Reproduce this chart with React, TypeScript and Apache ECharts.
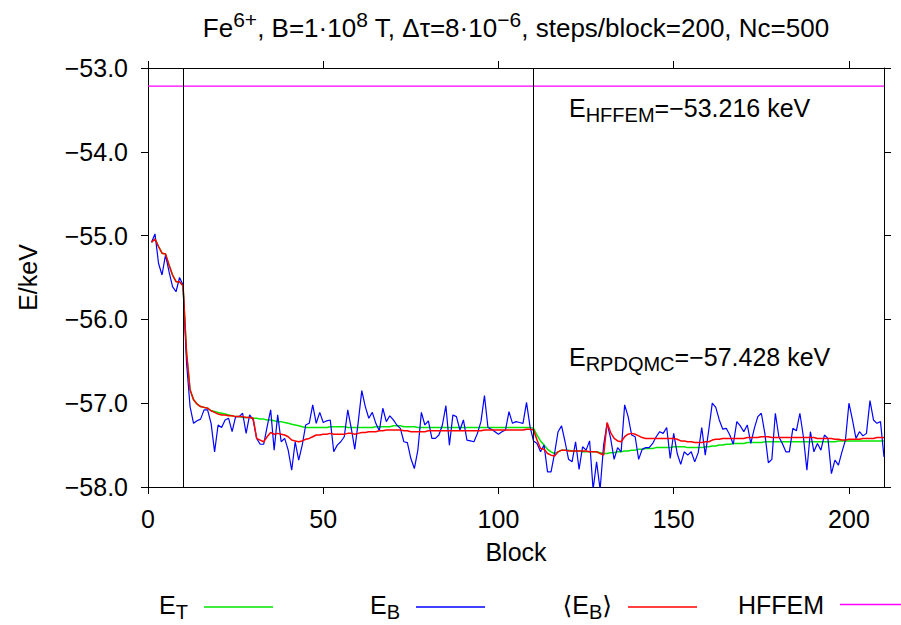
import React, { useEffect, useRef } from 'react';
import * as echarts from 'echarts';

const FONT = '"Liberation Sans", Arial, "DejaVu Sans", sans-serif';

// E_B per block (blocks 1..210)
const eBlock = [
  -55.08, -54.98, -55.33, -55.47, -55.23, -55.43, -55.61, -55.67, -55.50, -55.59,
  -56.52, -57.04, -57.24, -57.21, -57.19, -57.08, -57.08, -57.24, -57.58, -57.26,
  -57.29, -57.20, -57.18, -57.34, -57.16, -57.16, -57.12, -57.36, -57.14, -57.20,
  -57.42, -57.49, -57.49, -57.28, -57.08, -57.56, -57.14, -57.46, -57.42, -57.56,
  -57.80, -57.46, -57.68, -57.50, -57.26, -57.24, -57.02, -57.24, -57.11, -57.23,
  -57.21, -57.20, -57.58, -57.50, -57.46, -57.40, -57.08, -57.30, -57.55, -57.22,
  -56.85, -57.04, -57.18, -57.11, -57.24, -57.33, -57.06, -57.22, -57.15, -57.20,
  -57.26, -57.30, -57.46, -57.47, -57.66, -57.78, -57.56, -57.11, -57.26, -57.21,
  -57.42, -57.42, -57.38, -57.26, -57.03, -57.50, -57.14, -57.16, -57.32, -57.20,
  -57.44, -57.45, -57.46, -57.36, -57.22, -56.91, -57.29, -57.31, -57.34, -57.37,
  -57.34, -57.32, -57.10, -57.24, -57.22, -57.23, -57.24, -56.99, -57.28, -57.45,
  -57.48, -57.58, -57.50, -57.82, -57.82, -57.60, -57.34, -57.27, -57.46, -57.67,
  -57.70, -57.46, -57.79, -57.52, -57.56, -57.45, -58.03, -57.70, -58.03, -57.50,
  -57.24, -57.42, -57.67, -57.53, -57.58, -57.02, -57.16, -57.38, -57.40, -57.67,
  -57.55, -57.53, -57.53, -57.48, -57.40, -57.34, -57.36, -57.29, -57.66, -57.36,
  -57.60, -57.73, -57.58, -57.62, -57.58, -57.70, -57.59, -57.29, -57.62, -57.32,
  -57.00, -57.05, -57.20, -57.31, -57.30, -57.38, -57.49, -57.22, -57.27, -57.34,
  -57.26, -57.48, -57.30, -57.16, -57.12, -57.36, -57.71, -57.67, -57.12, -57.40,
  -57.48, -57.58, -57.58, -57.30, -57.33, -57.12, -57.40, -57.80, -57.34, -57.58,
  -57.48, -57.56, -57.38, -57.42, -57.84, -57.68, -57.74, -57.58, -57.44, -57.00,
  -57.20, -57.42, -57.34, -57.39, -57.36, -56.97, -57.20, -57.24, -57.22, -57.64,
];

// <E_B> per block
const eAvg = [
  -55.08, -55.04, -55.13, -55.21, -55.22, -55.35, -55.47, -55.55, -55.55, -55.60,
  -56.40, -56.84, -56.96, -57.01, -57.04, -57.05, -57.06, -57.09, -57.11, -57.13,
  -57.14, -57.14, -57.15, -57.15, -57.16, -57.16, -57.16, -57.17, -57.17, -57.18,
  -57.42, -57.44, -57.46, -57.40, -57.35, -57.37, -57.36, -57.37, -57.38, -57.40,
  -57.44, -57.45, -57.46, -57.45, -57.43, -57.42, -57.40, -57.38, -57.38, -57.37,
  -57.37, -57.36, -57.37, -57.37, -57.37, -57.37, -57.36, -57.36, -57.37, -57.36,
  -57.35, -57.35, -57.34, -57.34, -57.34, -57.33, -57.33, -57.32, -57.32, -57.32,
  -57.32, -57.32, -57.33, -57.33, -57.34, -57.34, -57.34, -57.34, -57.34, -57.33,
  -57.33, -57.33, -57.33, -57.33, -57.33, -57.33, -57.33, -57.33, -57.33, -57.33,
  -57.33, -57.33, -57.33, -57.33, -57.33, -57.32, -57.32, -57.32, -57.32, -57.32,
  -57.32, -57.32, -57.32, -57.32, -57.32, -57.32, -57.32, -57.31, -57.31, -57.32,
  -57.44, -57.54, -57.55, -57.60, -57.62, -57.63, -57.58, -57.56, -57.56, -57.57,
  -57.57, -57.57, -57.57, -57.57, -57.57, -57.58, -57.58, -57.58, -57.60, -57.62,
  -57.23, -57.35, -57.42, -57.45, -57.46, -57.40, -57.37, -57.36, -57.37, -57.39,
  -57.41, -57.42, -57.42, -57.42, -57.42, -57.42, -57.42, -57.42, -57.42, -57.42,
  -57.43, -57.45, -57.45, -57.46, -57.46, -57.47, -57.47, -57.47, -57.46, -57.46,
  -57.44, -57.43, -57.43, -57.42, -57.42, -57.42, -57.42, -57.42, -57.42, -57.42,
  -57.41, -57.41, -57.41, -57.41, -57.40, -57.40, -57.40, -57.41, -57.41, -57.41,
  -57.41, -57.41, -57.41, -57.41, -57.41, -57.41, -57.41, -57.41, -57.41, -57.41,
  -57.42, -57.42, -57.42, -57.42, -57.42, -57.43, -57.43, -57.44, -57.44, -57.43,
  -57.43, -57.43, -57.43, -57.42, -57.42, -57.42, -57.42, -57.41, -57.41, -57.41,
];

// E_T per block
const eTrial = [
  -55.08, -55.04, -55.13, -55.21, -55.22, -55.35, -55.47, -55.55, -55.55, -55.60,
  -56.40, -56.84, -56.96, -57.01, -57.04, -57.05, -57.06, -57.09, -57.10, -57.11,
  -57.12, -57.13, -57.14, -57.15, -57.16, -57.16, -57.17, -57.17, -57.17, -57.18,
  -57.18, -57.19, -57.19, -57.20, -57.20, -57.21, -57.22, -57.22, -57.23, -57.24,
  -57.25, -57.26, -57.27, -57.28, -57.29, -57.29, -57.29, -57.29, -57.29, -57.29,
  -57.29, -57.28, -57.28, -57.28, -57.28, -57.28, -57.29, -57.29, -57.29, -57.29,
  -57.29, -57.29, -57.29, -57.29, -57.28, -57.28, -57.28, -57.28, -57.28, -57.27,
  -57.27, -57.27, -57.28, -57.28, -57.28, -57.28, -57.29, -57.29, -57.29, -57.29,
  -57.29, -57.29, -57.29, -57.29, -57.29, -57.29, -57.29, -57.29, -57.29, -57.29,
  -57.29, -57.29, -57.29, -57.29, -57.29, -57.29, -57.29, -57.29, -57.29, -57.29,
  -57.29, -57.29, -57.29, -57.29, -57.29, -57.29, -57.29, -57.29, -57.29, -57.30,
  -57.38, -57.45, -57.50, -57.55, -57.58, -57.60, -57.58, -57.56, -57.56, -57.56,
  -57.57, -57.57, -57.57, -57.58, -57.58, -57.58, -57.58, -57.58, -57.59, -57.60,
  -57.60, -57.59, -57.59, -57.58, -57.58, -57.57, -57.57, -57.56, -57.56, -57.55,
  -57.55, -57.54, -57.54, -57.54, -57.53, -57.53, -57.53, -57.53, -57.53, -57.52,
  -57.52, -57.52, -57.52, -57.53, -57.53, -57.53, -57.53, -57.53, -57.52, -57.52,
  -57.51, -57.51, -57.50, -57.50, -57.49, -57.49, -57.48, -57.48, -57.48, -57.48,
  -57.47, -57.47, -57.47, -57.47, -57.47, -57.46, -57.46, -57.46, -57.46, -57.46,
  -57.46, -57.46, -57.46, -57.46, -57.46, -57.46, -57.46, -57.46, -57.46, -57.46,
  -57.46, -57.46, -57.46, -57.46, -57.46, -57.46, -57.45, -57.45, -57.45, -57.45,
  -57.45, -57.45, -57.45, -57.45, -57.45, -57.45, -57.45, -57.45, -57.45, -57.45,
];

const hffemValue = -53.216;
const xRange = [0, 210];
const yRange = [-58, -53];
const xTicks = [0, 50, 100, 150, 200];
const verticalMarkers = [10, 110];
const annotationHFFEM = { sub: 'HFFEM', value: '=\u221253.216 keV' };
const annotationQMC = { sub: 'RPDQMC', value: '=\u221257.428 keV' };

const toPairs = (arr: number[]) => arr.map((v, i) => [i + 1, v]);

const BIG = 25;
const SMALL = 20;
const TITLE_BIG = 26;
const TITLE_SMALL = 21;

// rich styles for axis/legend (ECharts text style names)
const subRichE = {
  n: { fontSize: BIG, fontFamily: FONT, color: '#000', verticalAlign: 'top' },
  sub: { fontSize: SMALL, fontFamily: FONT, color: '#000', verticalAlign: 'top', padding: [10, 0, 0, 0] },
};

// rich styles for graphic (zrender style names)
const subRichZ = {
  n: { fontSize: BIG, fontFamily: FONT, fill: '#000', verticalAlign: 'top' },
  sub: { fontSize: SMALL, fontFamily: FONT, fill: '#000', verticalAlign: 'top', padding: [10, 0, 0, 0] },
};
const supRichZ = {
  n: { fontSize: TITLE_BIG, fontFamily: FONT, fill: '#000', verticalAlign: 'bottom', padding: [6, 0, 0, 0] },
  s: { fontSize: TITLE_SMALL, fontFamily: FONT, fill: '#000', verticalAlign: 'top' },
};

const legendLabels: Record<string, string> = {
  ET: '{n|E}{sub|T}',
  EB: '{n|E}{sub|B}',
  AVG: '{n|\u27E8E}{sub|B}{n|\u27E9}',
  HFFEM: '{n|HFFEM}',
};
const legendRight: Record<string, number> = { ET: 628, EB: 416, AVG: 204, HFFEM: -8 };

export default function App() {
  const ref = useRef<HTMLDivElement>(null);
  useEffect(() => {
    if (!ref.current) return;
    const chart = echarts.init(ref.current, null, { renderer: 'svg' });
    const axisLine = { show: true, onZero: false, lineStyle: { color: '#000', width: 1 } };
    const labelStyle = { fontSize: BIG, fontFamily: FONT, color: '#000' };
    const legends = Object.keys(legendLabels).map((k) => ({
      data: [k],
      right: legendRight[k],
      top: 592,
      padding: 0,
      align: 'right',
      icon: 'rect',
      itemWidth: 69,
      itemHeight: 1.5,
      selectedMode: false,
      formatter: (name: string) => legendLabels[name],
      textStyle: { fontSize: BIG, fontFamily: FONT, color: '#000', rich: subRichE, padding: [0, 11, 0, 0] },
    }));
    chart.setOption({
      animation: false,
      backgroundColor: '#fff',
      grid: { left: 148, right: 17, top: 68, bottom: 138, containLabel: false },
      legend: legends,
      xAxis: [
        {
          type: 'value', min: xRange[0], max: xRange[1], position: 'bottom',
          axisLine, splitLine: { show: false },
          axisTick: { show: true, inside: false, length: 7, customValues: xTicks, lineStyle: { color: '#000' } },
          axisLabel: { ...labelStyle, margin: 19, customValues: xTicks },
          name: 'Block', nameLocation: 'middle', nameGap: 52, nameTextStyle: labelStyle,
        },
        {
          type: 'value', min: xRange[0], max: xRange[1], position: 'top',
          axisLine, splitLine: { show: false },
          axisTick: { show: true, inside: false, length: 7, customValues: xTicks, lineStyle: { color: '#000' } },
          axisLabel: { show: false },
        },
      ],
      yAxis: [
        {
          type: 'value', min: yRange[0], max: yRange[1], interval: 1, position: 'left',
          axisLine, splitLine: { show: false },
          axisTick: { show: true, inside: false, length: 7, lineStyle: { color: '#000' } },
          axisLabel: {
            ...labelStyle, margin: 20,
            formatter: (v: number) => (v < 0 ? '\u2212' : '') + Math.abs(v).toFixed(1),
          },
          name: 'E/keV', nameLocation: 'middle', nameRotate: 90, nameGap: 108, nameTextStyle: labelStyle,
        },
        {
          type: 'value', min: yRange[0], max: yRange[1], interval: 1, position: 'right',
          axisLine, splitLine: { show: false },
          axisTick: { show: true, inside: false, length: 7, lineStyle: { color: '#000' } },
          axisLabel: { show: false },
        },
      ],
      series: [
        {
          name: 'ET', type: 'line', data: toPairs(eTrial), symbol: 'none',
          lineStyle: { color: '#00e600', width: 1.5 }, itemStyle: { color: '#00e600' },
        },
        {
          name: 'EB', type: 'line', data: toPairs(eBlock), symbol: 'none',
          lineStyle: { color: '#0000ff', width: 1.2 }, itemStyle: { color: '#0000ff' },
          markLine: {
            silent: true, symbol: 'none', label: { show: false },
            lineStyle: { color: '#000', type: 'solid', width: 1 },
            data: verticalMarkers.map((x) => ({ xAxis: x })),
          },
        },
        {
          name: 'AVG', type: 'line', data: toPairs(eAvg), symbol: 'none',
          lineStyle: { color: '#ff0000', width: 1.5 }, itemStyle: { color: '#ff0000' },
        },
        {
          name: 'HFFEM', type: 'line', data: [[xRange[0], hffemValue], [xRange[1], hffemValue]], symbol: 'none',
          lineStyle: { color: '#ff00ff', width: 1.2 }, itemStyle: { color: '#ff00ff' },
        },
      ],
      graphic: [
        {
          type: 'text', x: 516, y: 9,
          style: {
            text: '{n|Fe}{s|6+}{n|, B=1\u00B710}{s|8}{n| T, \u0394\u03C4=8\u00B710}{s|\u22126}{n|, steps/block=200, Nc=500}',
            rich: supRichZ, align: 'center', verticalAlign: 'top', fontSize: TITLE_BIG, fontFamily: FONT, fill: '#000',
          },
        },
        {
          type: 'text', x: 569, y: 95,
          style: {
            text: `{n|E}{sub|${annotationHFFEM.sub}}{n|${annotationHFFEM.value}}`,
            rich: subRichZ, align: 'left', verticalAlign: 'top', fontSize: BIG, fontFamily: FONT, fill: '#000',
          },
        },
        {
          type: 'text', x: 569, y: 344,
          style: {
            text: `{n|E}{sub|${annotationQMC.sub}}{n|${annotationQMC.value}}`,
            rich: subRichZ, align: 'left', verticalAlign: 'top', fontSize: BIG, fontFamily: FONT, fill: '#000',
          },
        },
      ],
    });
    return () => chart.dispose();
  }, []);
  return <div ref={ref} style={{ position: 'fixed', left: 0, top: 0, width: 901, height: 625 }} />;
}
